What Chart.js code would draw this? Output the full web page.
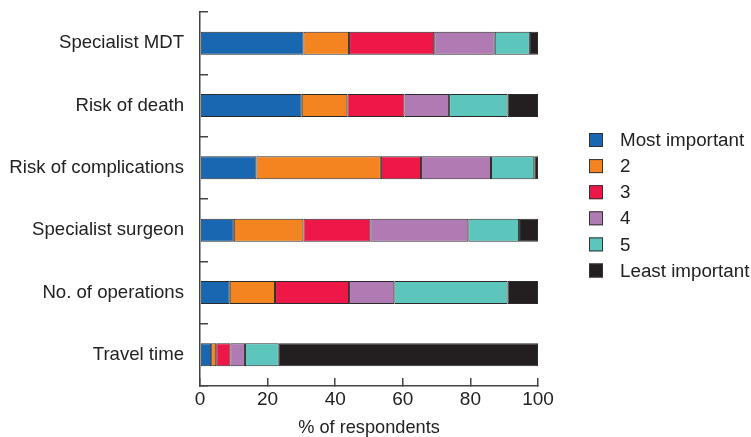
<!DOCTYPE html>
<html>
<head>
<meta charset="utf-8">
<script src="https://cdn.jsdelivr.net/npm/chart.js@4"></script>
<style>
  body { margin: 0; background: #fff; }
</style>
</head>
<body>
<canvas id="chart" width="751" height="437"></canvas>
<script>
// ================== DATA ==================
const categories = [
  'Specialist MDT',
  'Risk of death',
  'Risk of complications',
  'Specialist surgeon',
  'No. of operations',
  'Travel time'
];

const rankLabels = ['Most important', '2', '3', '4', '5', 'Least important'];

// % of respondents per rank, in category order
const mostImportant = [30.6, 30.1, 16.7, 10.0, 8.8, 3.3];
const rank2 = [13.5, 13.5, 36.8, 20.6, 13.4, 1.5];
const rank3 = [25.2, 16.9, 11.9, 19.8, 21.9, 4.2];
const rank4 = [17.9, 13.2, 20.7, 29.0, 13.4, 4.3];
const rank5 = [10.4, 17.3, 12.8, 15.0, 33.5, 10.0];
const leastImportant = [2.4, 9.0, 1.1, 5.6, 9.0, 76.7];

const xTicks = [0, 20, 40, 60, 80, 100];

const colors = ['#1a67b1', '#f48420', '#ee1848', '#b07ab3', '#5cc5bc', '#231f20'];

const FONT = '"Liberation Sans", Arial, sans-serif';

// ================== LEGEND (drawn by hand on the right) ==================
const sideLegend = {
  id: 'sideLegend',
  afterDraw(chart) {
    const ctx = chart.ctx;
    ctx.save();
    ctx.font = '18.8px ' + FONT;
    ctx.textBaseline = 'middle';
    chart.data.datasets.forEach((ds, i) => {
      const y = 140 + i * 26.1;
      ctx.fillStyle = ds.backgroundColor;
      ctx.fillRect(589, y - 7, 14, 14);
      ctx.strokeStyle = '#333';
      ctx.lineWidth = 1;
      ctx.strokeRect(589.5, y - 6.5, 13, 13);
      ctx.fillStyle = '#222';
      ctx.fillText(ds.label, 620, y + 1);
    });
    ctx.restore();
  }
};

const seriesValues = [mostImportant, rank2, rank3, rank4, rank5, leastImportant];

new Chart(document.getElementById('chart').getContext('2d'), {
  type: 'bar',
  data: {
    labels: categories,
    datasets: seriesValues.map((vals, i) => ({
      label: rankLabels[i],
      data: vals,
      backgroundColor: colors[i],
      borderColor: '#2b2b2b',
      borderWidth: 1,
      borderSkipped: false,
      barPercentage: 0.37,
      categoryPercentage: 1
    }))
  },
  options: {
    indexAxis: 'y',
    responsive: false,
    animation: false,
    layout: { padding: { top: 12, right: 213, bottom: 0, left: 0 } },
    plugins: {
      legend: { display: false },
      tooltip: { enabled: false }
    },
    scales: {
      x: {
        stacked: true,
        min: 0,
        max: 100,
        afterBuildTicks: scale => { scale.ticks = xTicks.map(v => ({ value: v })); },
        afterFit: scale => {
          scale.height = 51;
          scale.paddingLeft = 0;
          scale.paddingRight = 0;
        },
        border: { display: true, color: '#444', width: 1.5 },
        grid: { drawOnChartArea: false, tickLength: -8, color: '#444', lineWidth: 1.5 },
        ticks: {
          color: '#222',
          padding: 10,
          font: { family: FONT, size: 19 }
        },
        title: {
          display: true,
          text: '% of respondents',
          color: '#222',
          padding: { top: 0, bottom: -2 },
          font: { family: FONT, size: 18.2 }
        }
      },
      y: {
        stacked: true,
        afterFit: scale => {
          scale.width = 200;
          scale.paddingTop = 0;
          scale.paddingBottom = 0;
        },
        border: { display: true, color: '#444', width: 1.5 },
        grid: { drawOnChartArea: false, tickLength: -8, offset: true, color: '#444', lineWidth: 1.5 },
        ticks: {
          color: '#222',
          padding: 24,
          font: { family: FONT, size: 18.6 }
        }
      }
    }
  },
  plugins: [sideLegend]
});
</script>
</body>
</html>
